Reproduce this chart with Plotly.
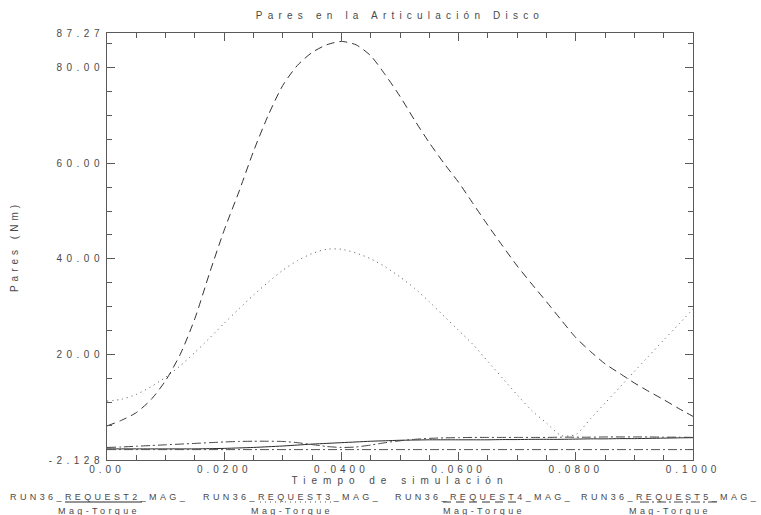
import plotly.graph_objects as go

# ---------------- data ----------------
time_s = [0.0, 0.0025, 0.005, 0.0075, 0.01, 0.0125, 0.015, 0.0175, 0.02, 0.0225,
          0.025, 0.0275, 0.03, 0.0325, 0.035, 0.0375, 0.04, 0.0425, 0.045, 0.0475,
          0.05, 0.0525, 0.055, 0.0575, 0.06, 0.0625, 0.065, 0.0675, 0.07, 0.0725,
          0.075, 0.0775, 0.08, 0.0825, 0.085, 0.0875, 0.09, 0.0925, 0.095, 0.0975, 0.1]

request2 = [0.2, 0.2, 0.2, 0.2, 0.2, 0.2, 0.2, 0.25, 0.3, 0.4,
            0.5, 0.65, 0.8, 1.0, 1.2, 1.35, 1.5, 1.65, 1.8, 1.9,
            2.0, 2.05, 2.1, 2.1, 2.1, 2.1, 2.1, 2.15, 2.15, 2.2,
            2.2, 2.2, 2.25, 2.3, 2.3, 2.35, 2.35, 2.4, 2.45, 2.5, 2.55]

request3 = [10.2, 10.6, 11.6, 13.2, 15.2, 17.6, 20.4, 23.4, 26.5, 29.5,
            32.4, 35.1, 37.6, 39.6, 41.1, 42.0, 42.0, 41.2, 40.0, 38.3,
            36.2, 33.8, 31.0, 28.0, 25.0, 22.0, 18.5, 15.0, 11.5, 8.2,
            5.6, 3.0, 3.2, 6.5, 9.8, 13.1, 16.4, 19.7, 23.0, 26.2, 29.5]

request4 = [5.0, 6.2, 7.8, 10.5, 14.5, 20.0, 27.5, 37.0, 46.0, 54.0,
            62.5, 70.0, 76.3, 80.5, 83.2, 84.8, 85.5, 84.8, 82.5, 78.5,
            74.0, 69.0, 64.3, 60.0, 56.0, 51.5, 47.0, 42.7, 38.5, 34.7,
            31.0, 27.2, 23.5, 20.6, 18.0, 16.0, 14.0, 12.2, 10.5, 8.7, 7.0]

request5 = [0.5, 0.6, 0.75, 0.9, 1.05, 1.2, 1.35, 1.5, 1.65, 1.75,
            1.8, 1.8, 1.75, 1.5, 1.1, 0.7, 0.5, 0.6, 1.0, 1.5,
            1.9, 2.2, 2.4, 2.5, 2.55, 2.6, 2.6, 2.6, 2.6, 2.6,
            2.6, 2.65, 2.65, 2.65, 2.7, 2.7, 2.7, 2.7, 2.65, 2.65, 2.6]

zero_time = [0.0, 0.1]
zero_line = [0.05, 0.05]

series_names = ["RUN36_REQUEST2_MAG_", "RUN36_REQUEST3_MAG_",
                "RUN36_REQUEST4_MAG_", "RUN36_REQUEST5_MAG_"]
series_sub = "Mag-Torque"

x_tickvals = [0.0, 0.02, 0.04, 0.06, 0.08, 0.1]
x_ticktext = ["0.00", "0.0200", "0.0400", "0.0600", "0.0800", "0.1000"]
y_tickvals = [-2.128, 20, 40, 60, 80, 87.27]
y_ticktext = ["-2.128", "20.00", "40.00", "60.00", "80.00", "87.27"]

title_text = "Pares en la Articulación Disco"
x_title = "Tiempo de simulación"
y_title = "Pares (Nm)"

# ---------------- styling ----------------
FONT = "Liberation Sans"
TXT = "#4a4a4a"
AX = "#5a5a5a"


def sp(s, px=4.0):
    return f'<span style="letter-spacing:{px}px">{s}</span>'


styles = [
    dict(color="#2a2a2a", dash="solid", width=1),
    dict(color="#555555", dash="1px,4px", width=1),
    dict(color="#333333", dash="8px,5px", width=1),
    dict(color="#444444", dash="9px,3px,2px,3px", width=1),
]
series = [request2, request3, request4, request5]

fig = go.Figure()
for name, vals, st in zip(series_names, series, styles):
    fig.add_trace(go.Scatter(x=time_s, y=vals, mode="lines", name=name,
                             line=dict(shape="spline", smoothing=0.7, **st),
                             showlegend=False))
fig.add_trace(go.Scatter(x=zero_time, y=zero_line, mode="lines", showlegend=False,
                         line=dict(color="#555555", width=1, dash="9px,3px,2px,3px")))

L, R, T, B = 107, 68, 33, 55
W, H = 761, 515
pw, ph = W - L - R, H - T - B

fig.update_layout(
    width=W, height=H,
    margin=dict(l=L, r=R, t=T, b=B),
    paper_bgcolor="white", plot_bgcolor="white",
    font=dict(family=FONT, size=10, color=TXT),
    title=dict(text=sp(title_text, 5.2), x=0.5, xref="paper", y=1 - 15 / H,
               yref="container", xanchor="center", yanchor="middle",
               font=dict(family=FONT, size=10, color=TXT)),
    showlegend=False,
)

fig.update_xaxes(
    range=[0, 0.1], tickmode="array", tickvals=x_tickvals,
    ticktext=[sp(t) for t in x_ticktext],
    ticks="inside", ticklen=8, tickwidth=1, tickcolor=AX,
    minor=dict(dtick=0.005, tick0=0, ticks="inside", ticklen=5, tickwidth=1,
               tickcolor=AX, showgrid=False),
    showline=True, linecolor=AX, linewidth=1, mirror="ticks",
    showgrid=False, zeroline=False,
    tickfont=dict(family=FONT, size=10, color=TXT),
    title=dict(text=sp(x_title, 6), standoff=2,
               font=dict(family=FONT, size=10, color=TXT)),
)
fig.update_yaxes(
    range=[-2.128, 87.27], tickmode="array", tickvals=y_tickvals,
    ticktext=[sp(t, 4.5) for t in y_ticktext],
    ticks="inside", ticklen=8, tickwidth=1, tickcolor=AX,
    minor=dict(dtick=5, tick0=0, ticks="inside", ticklen=5, tickwidth=1,
               tickcolor=AX, showgrid=False),
    showline=True, linecolor=AX, linewidth=1, mirror="ticks",
    showgrid=False, zeroline=False,
    tickfont=dict(family=FONT, size=10, color=TXT),
    title=dict(text=sp(y_title), standoff=28,
               font=dict(family=FONT, size=10, color=TXT)),
)

# ---------------- legend (below plot) ----------------
entry_centers = [99, 292, 484, 670]
underline_spans = [(65, 142), (260, 333), (443, 517), (640, 717)]
for name, cx, (u0, u1), st in zip(series_names, entry_centers, underline_spans, styles):
    fig.add_annotation(text=sp(name, 3.4), xref="paper", yref="paper",
                       x=(cx - L) / pw, y=(H - B - 497) / ph,
                       showarrow=False, xanchor="center", yanchor="middle",
                       font=dict(family=FONT, size=9, color=TXT))
    fig.add_annotation(text=sp(series_sub, 3.4), xref="paper", yref="paper",
                       x=(cx - L) / pw, y=(H - B - 511) / ph,
                       showarrow=False, xanchor="center", yanchor="middle",
                       font=dict(family=FONT, size=9, color=TXT))
    fig.add_shape(type="line", xref="paper", yref="paper",
                  x0=(u0 - L) / pw, x1=(u1 - L) / pw,
                  y0=(H - B - 502) / ph, y1=(H - B - 502) / ph,
                  line=dict(color=st["color"], width=1, dash=st["dash"]))

fig.write_html("out.html")
